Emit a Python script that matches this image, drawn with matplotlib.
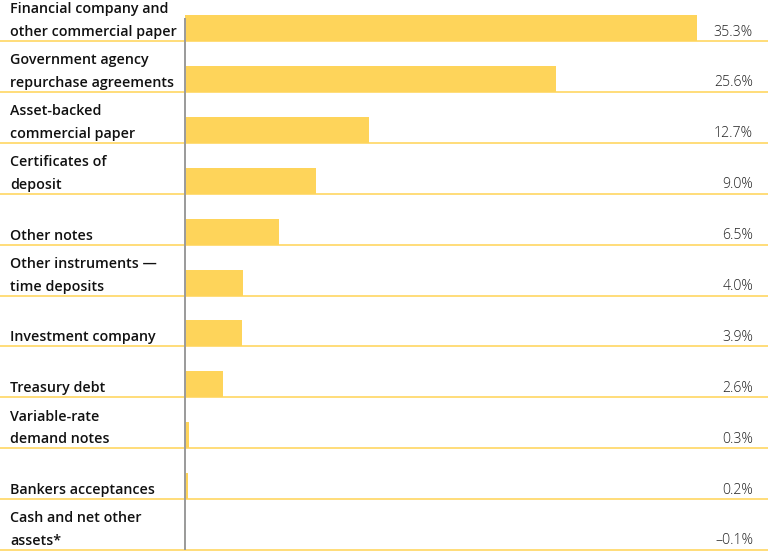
import matplotlib
matplotlib.use("Agg")
import matplotlib.pyplot as plt

categories = [
    "Financial company and\nother commercial paper",
    "Government agency\nrepurchase agreements",
    "Asset-backed\ncommercial paper",
    "Certificates of\ndeposit",
    "Other notes",
    "Other instruments \u2014\ntime deposits",
    "Investment company",
    "Treasury debt",
    "Variable-rate\ndemand notes",
    "Bankers acceptances",
    "Cash and net other\nassets*",
]
values = [35.3, 25.6, 12.7, 9.0, 6.5, 4.0, 3.9, 2.6, 0.3, 0.2, -0.1]
value_labels = ["35.3%", "25.6%", "12.7%", "9.0%", "6.5%", "4.0%", "3.9%",
                "2.6%", "0.3%", "0.2%", "\u20130.1%"]

W, H = 769, 556
fig = plt.figure(figsize=(W / 100, H / 100), dpi=100)
ax = fig.add_axes([0, 0, 1, 1])
ax.set_axis_off()

zero_px = 185.0
px_per_unit = 14.5
ax.set_xlim(-zero_px / px_per_unit, (W - zero_px) / px_per_unit)
ax.set_ylim(H, 0)

def px2v(x):
    return (x - zero_px) / px_per_unit

bar_color = "#FED45A"
sep_color = "#FFDA6E"
first_b = 41.0
step = (550.0 - 41.0) / 10
bar_h = 26.0
font = "Open Sans"

for i, (cat, v, lab) in enumerate(zip(categories, values, value_labels)):
    b = first_b + i * step
    ax.barh(b - bar_h / 2, v, height=bar_h, left=0, color=bar_color,
            linewidth=0, zorder=2)
    ax.plot([px2v(0), px2v(768)], [b, b], color=sep_color, lw=1.3,
            solid_capstyle="butt", zorder=1)
    lines = cat.split("\n")
    for k, ln in enumerate(reversed(lines)):
        ax.text(px2v(10), b - 5 - k * 22.5, ln, ha="left", va="baseline",
                fontsize=10.3, family=font, fontweight="semibold",
                color="#111111")
    ax.text(px2v(753), b - 5.5, lab, ha="right", va="baseline",
            fontsize=10.2, family=font, fontweight="light", color="#222222")

ax.plot([0, 0], [18, 550], color="#9a9a9a", lw=1.4, zorder=3,
        solid_capstyle="butt")

fig.savefig("out.png", dpi=100)
